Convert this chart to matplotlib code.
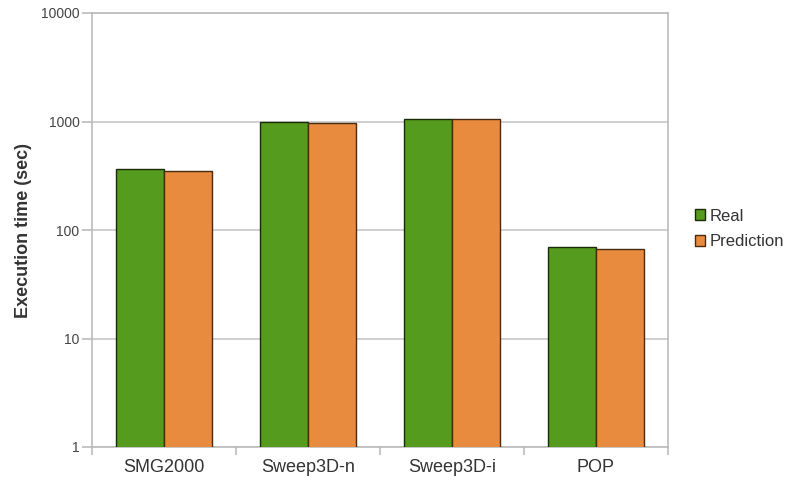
import numpy as np
import matplotlib
matplotlib.use("Agg")
import matplotlib.pyplot as plt

# values
categories = ['SMG2000', 'Sweep3D-n', 'Sweep3D-i', 'POP']
real = [362, 995, 1045, 70]
prediction = [348, 965, 1050, 67]

plt.rcParams['font.family'] = ['Liberation Sans', 'DejaVu Sans']

fig = plt.figure(figsize=(7.87, 4.83), dpi=100)
ax = fig.add_axes([92 / 787, 1 - 447 / 483, 576 / 787, 434 / 483])

x = np.arange(len(categories))
w = 1 / 3
ax.bar(x - w / 2, real, w, color='#559B1E', edgecolor='#1a2a08', linewidth=1.0,
       label='Real', zorder=3)
ax.bar(x + w / 2, prediction, w, color='#E88B3E', edgecolor='#4a2a0e', linewidth=1.0,
       label='Prediction', zorder=3)

ax.set_yscale('log')
ax.set_ylim(1, 10000)
ax.set_xlim(-0.5, len(categories) - 0.5)
ax.set_yticks([1, 10, 100, 1000, 10000])
ax.set_yticklabels(['1', '10', '100', '1000', '10000'])
ax.yaxis.set_minor_locator(matplotlib.ticker.NullLocator())
ax.grid(axis='y', color='#c8c8c8', linewidth=1.2, zorder=0)

# category labels in middle, tick marks at boundaries
ax.set_xticks(x)
ax.set_xticklabels(categories, fontsize=13, color='#333333')
ax.tick_params(axis='x', length=0, pad=9)
ax.set_xticks(np.arange(len(categories) + 1) - 0.5, minor=True)
ax.tick_params(axis='x', which='minor', length=6, color='#bbbbbb', width=1.2)
ax.tick_params(axis='y', length=7, color='#bbbbbb', width=1.2, labelsize=10,
               labelcolor='#444444', pad=2)

for s in ax.spines.values():
    s.set_color('#bbbbbb')
    s.set_linewidth(1.2)

ax.set_ylabel('Execution time (sec)', fontsize=13, fontweight='bold',
              color='#333333')
ax.yaxis.set_label_coords(-60 / 576, 0.5)

fig.legend(loc='center left', bbox_to_anchor=(695 / 787, 1 - 229 / 483),
           frameon=False, fontsize=12, handlelength=0.6, handleheight=0.6,
           handletextpad=0.25, labelspacing=0.65, labelcolor='#333333',
           borderpad=0, borderaxespad=0)

fig.savefig('out.png', dpi=100)
